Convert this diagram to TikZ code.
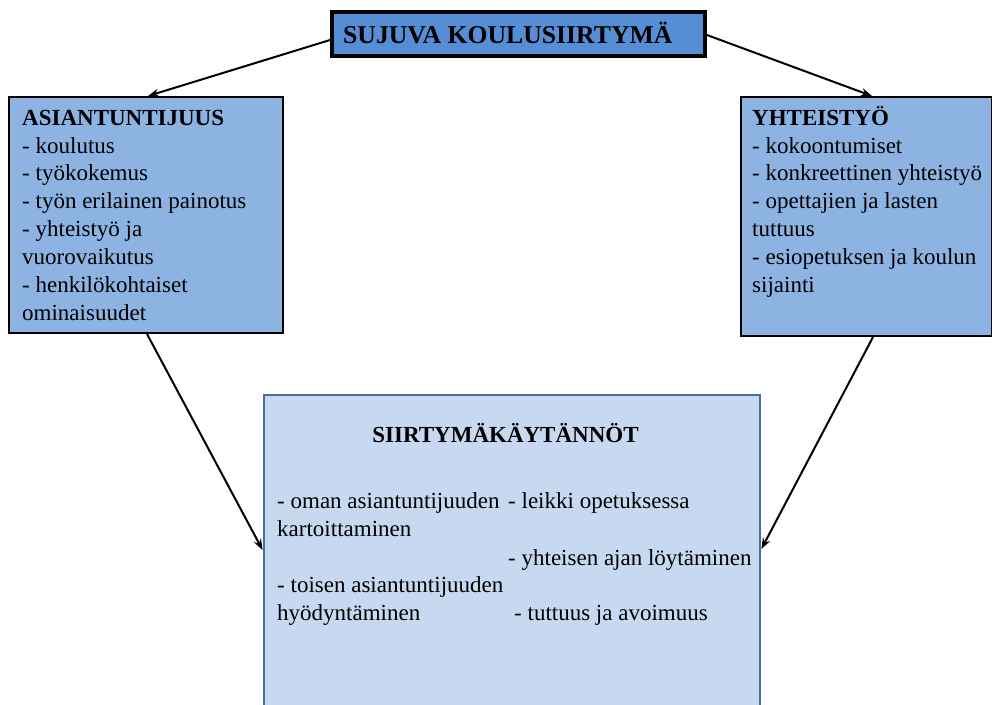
\documentclass[tikz,border=0pt]{standalone}
\usepackage{fontspec}
\setmainfont{Liberation Serif}
\usetikzlibrary{arrows.meta}
\definecolor{topfill}{HTML}{558ED5}
\definecolor{sidefill}{HTML}{8DB3E2}
\definecolor{lowfill}{HTML}{C6D9F1}
\definecolor{lowline}{HTML}{41719C}
\tikzset{
  sidebox/.style={draw=black, line width=2pt, fill=sidefill, inner sep=0pt},
  topbox/.style={draw=black, line width=3.8pt, fill=topfill, inner sep=0pt},
  lowbox/.style={draw=lowline, line width=2.8pt, fill=lowfill, inner sep=0pt},
  txt/.style={anchor=base west, inner sep=0pt, font=\fontsize{23}{28}\selectfont},
  hd/.style={txt, font=\fontsize{23}{28}\selectfont\bfseries},
  conn/.style={line width=2pt, -{Stealth[length=11pt,width=8pt]}}
}
\begin{document}
\begin{tikzpicture}[x=1pt,y=-1pt]
\useasboundingbox (0,0) rectangle (992,704);
% boxes
\node[topbox, minimum width=373pt, minimum height=44pt] (top) at (518.5,34) {};
\node[sidebox, minimum width=274pt, minimum height=236pt] (asi) at (146,215) {};
\node[sidebox, minimum width=251pt, minimum height=239pt] (yht) at (866.5,216.5) {};
\node[lowbox, minimum width=496pt, minimum height=325pt] (low) at (512,557.5) {};
% top title
\node[anchor=base west, inner sep=0pt, font=\fontsize{25.7}{30}\selectfont\bfseries] (toptxt) at (343,43) {SUJUVA KOULUSIIRTYMÄ};
% left box text
\node[hd] (a0) at (22,125) {ASIANTUNTIJUUS};
\node[txt] (a1) at (22,153) {- koulutus};
\node[txt] (a2) at (22,180.5) {- työkokemus};
\node[txt] (a3) at (22,208) {- työn erilainen painotus};
\node[txt] (a4) at (22,236) {- yhteistyö ja};
\node[txt] (a5) at (22,264) {vuorovaikutus};
\node[txt] (a6) at (22,292) {- henkilökohtaiset};
\node[txt] (a7) at (22,320) {ominaisuudet};
% right box text
\node[hd] (b0) at (752,125) {YHTEISTYÖ};
\node[txt] (b1) at (752,153) {- kokoontumiset};
\node[txt] (b2) at (752,180.5) {- konkreettinen yhteistyö};
\node[txt] (b3) at (752,208) {- opettajien ja lasten};
\node[txt] (b4) at (752,236) {tuttuus};
\node[txt] (b5) at (752,264) {- esiopetuksen ja koulun};
\node[txt] (b6) at (752,292) {sijainti};
% bottom box text
\node[hd, anchor=base] (c0) at (505.5,442) {SIIRTYMÄKÄYTÄNNÖT};
\node[txt] (c1) at (277,508) {- oman asiantuntijuuden};
\node[txt] (c2) at (508,508) {- leikki opetuksessa};
\node[txt] (c3) at (277,536) {kartoittaminen};
\node[txt] (c4) at (508,565) {- yhteisen ajan löytäminen};
\node[txt] (c5) at (277,592) {- toisen asiantuntijuuden};
\node[txt] (c6) at (277,620) {hyödyntäminen};
\node[txt] (c7) at (514,620) {- tuttuus ja avoimuus};
% connectors
\draw[conn] ([yshift=-6pt]top.west) -- ([xshift=2pt]asi.north);
\draw[conn] ([yshift=-1pt]top.east) -- ([xshift=5.5pt]yht.north);
\draw[conn] ([xshift=1pt]asi.south) -- ([yshift=7.5pt]low.west);
\draw[conn] ([xshift=6.5pt]yht.south) -- ([yshift=8.5pt]low.east);
\end{tikzpicture}
\end{document}
